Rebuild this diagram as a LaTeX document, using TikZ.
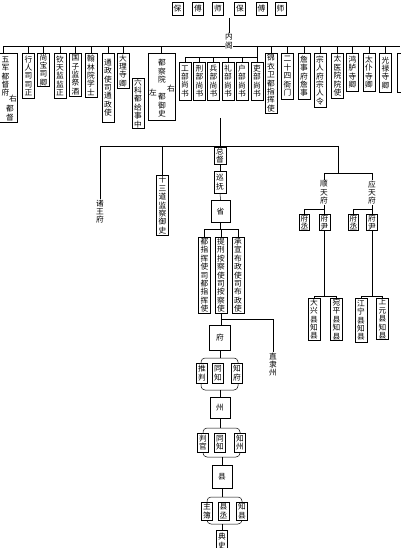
\documentclass[tikz,border=0pt]{standalone}
\usepackage{fontspec}
\newfontfamily\cjk{Noto Sans CJK SC}
\begin{document}
\begin{tikzpicture}[x=1pt,y=-1pt,line width=0.5pt,
  bx/.style={draw,fill=white,inner sep=0.3pt,anchor=north,minimum width=12pt,minimum height=#1,font=\cjk\fontsize{7.7}{8.4}\selectfont,align=center},
  ebox/.style={draw,fill=white,inner sep=0pt,anchor=north},
  lbl/.style={inner sep=0.3pt,font=\cjk\fontsize{7.7}{8.4}\selectfont,align=center}]
\useasboundingbox (0,0) rectangle (400,548);
% top row
\node[bx=13,minimum width=11pt] (t1) at (177.5,2) {保};
\node[bx=13,minimum width=11pt] (t2) at (198,2) {傅};
\node[bx=13,minimum width=11pt] (t3) at (218,2) {师};
\node[bx=13,minimum width=11pt] (t4) at (240,2) {保};
\node[bx=13,minimum width=11pt] (t5) at (261.5,2) {傅};
\node[bx=13,minimum width=11pt] (t6) at (280.5,2) {师};
\coordinate (topend) at (229,18);
\coordinate (mL) at (3,46);
\coordinate (mR) at (400,46);
\draw (mL) -- (mR);
\node[lbl,fill=white] (neige) at (229,41) {内\\阁};
\draw (topend) -- (neige.north);
% left group
\node[ebox,minimum width=28pt,minimum height=69pt] (wj) at (3,53) {};
\draw (wj.north) -- (wj.north |- mL);
\node[lbl,anchor=north] (wj1) at (5.5,56) {五\\军\\都\\督\\府};
\node[lbl] (wj2) at (13,99) {右};
\node[lbl,anchor=north] (wj3) at (10,105) {都\\督};
\node[bx=45] (xr) at (28.5,53) {行\\人\\司\\司\\正};
\node[bx=32] (sb) at (43.5,53) {尚\\宝\\司\\卿};
\node[bx=45] (qt) at (60,53) {钦\\天\\监\\监\\正};
\node[bx=43] (gz) at (75.5,53) {国\\子\\监\\祭\\酒};
\node[bx=44] (hl) at (91,53) {翰\\林\\院\\学\\士};
\node[bx=69] (tz) at (108,53) {通\\政\\使\\司\\通\\政\\使};
\node[bx=35] (dl) at (123,53) {大\\理\\寺\\卿};
\foreach \n in {xr,sb,qt,gz,hl,tz,dl} \draw (\n.north) -- (\n.north |- mL);
\node[bx=50] (lk) at (138,78) {六\\科\\都\\给\\事\\中};
\node[ebox,minimum width=27pt,minimum height=67pt] (dcy) at (161.5,53) {};
\draw (dcy.north) -- (dcy.north |- mL);
\node[lbl,anchor=north] (dcy1) at (162,59) {都\\察\\院};
\node[lbl] (dcy2) at (153,92) {左};
\node[lbl] (dcy3) at (171,89) {右};
\node[lbl,anchor=north] (dcy4) at (162,93) {都\\御\\史};
% six ministries
\coordinate (lbL) at (185,57);
\coordinate (lbR) at (257,57);
\draw (mL -| lbR) -- (lbR) -- (lbL);
\node[bx=38] (gb) at (185,62) {工\\部\\尚\\书};
\node[bx=38] (xb) at (199.5,62) {刑\\部\\尚\\书};
\node[bx=38] (bb) at (213.5,62) {兵\\部\\尚\\书};
\node[bx=38] (lib) at (228,62) {礼\\部\\尚\\书};
\node[bx=38] (hb) at (242,62) {户\\部\\尚\\书};
\node[bx=38] (lb) at (257,62) {吏\\部\\尚\\书};
\foreach \n in {gb,xb,bb,lib,hb,lb} \draw (\n.north) -- (\n.north |- lbL);
% right group
\node[bx=60] (rb1) at (271,53) {锦\\衣\\卫\\都\\指\\挥\\使};
\node[bx=46] (rb2) at (287.5,53) {二\\十\\四\\衙\\门};
\node[bx=46] (rb3) at (304,53) {詹\\事\\府\\詹\\事};
\node[bx=54] (rb4) at (320,53) {宗\\人\\府\\宗\\人\\令};
\node[bx=45] (rb5) at (337.5,53) {太\\医\\院\\院\\使};
\node[bx=38] (rb6) at (352.5,53) {鸿\\胪\\寺\\卿};
\node[bx=38] (rb7) at (369,53) {太\\仆\\寺\\卿};
\node[bx=39] (rb8) at (385.5,53) {光\\禄\\寺\\卿};
\node[bx=39] (rb9) at (403,53) {};
\foreach \n in {rb1,rb2,rb3,rb4,rb5,rb6,rb7,rb8,rb9} \draw (\n.north) -- (\n.north |- mL);
% middle horizontal
\coordinate (trunkTop) at (220,118);
\coordinate (hL) at (100,146);
\coordinate (hR) at (338,146);
\draw (hL) -- (hR);
\node[bx=17] (zd) at (220,147) {总\\督};
\draw (trunkTop) -- (zd.north);
\node[lbl,anchor=north] (zw) at (100,199) {诸\\王\\府};
\draw (hL) -- (zw.north);
\node[bx=60] (ssd) at (162.5,175) {十\\三\\道\\监\\察\\御\\史};
\draw (ssd.north) -- (ssd.north |- hL);
\node[bx=22] (xf) at (220,171) {巡\\抚};
\draw (zd.south) -- (xf.north);
\node[bx=22,minimum width=19pt] (sheng) at (220.5,200) {省};
\draw (xf.south) -- (sheng.north);
\coordinate (b1) at (220.5,229);
\node[bx=76] (dzh) at (204.5,237) {都\\指\\挥\\使\\司\\都\\指\\挥\\使};
\node[bx=76] (tx) at (221,237) {提\\刑\\按\\察\\使\\司\\按\\察\\使};
\node[bx=76] (cx) at (238,237) {承\\宣\\布\\政\\使\\司\\布\\政\\使};
\draw (sheng.south) -- (b1);
\draw (dzh.north |- b1) -- (cx.north |- b1);
\foreach \n in {dzh,tx,cx} \draw (\n.north) -- (\n.north |- b1);
% fu
\node[bx=25,minimum width=21pt] (fu) at (220,325) {府};
\draw (tx.south) -- (tx.south |- fu.north);
\coordinate (zl) at (273,319);
\node[lbl,anchor=north] (zlz) at (273,352) {直\\隶\\州};
\draw (tx.south |- zl) -- (zl) -- (zlz.north);
\coordinate (f2a) at (201,358);
\coordinate (f2b) at (238,390);
\draw[rounded corners=4pt] (f2a) rectangle (f2b);
\draw (fu.south) -- (fu.south |- f2a);
\node[bx=20,minimum width=11pt] (tp) at (202,363) {推\\判};
\node[bx=20,minimum width=11pt] (ft) at (218,363) {同\\知};
\node[bx=20,minimum width=11pt] (zf) at (237,363) {知\\府};
% zhou
\node[bx=21,minimum width=20pt] (zhou) at (220,397) {州};
\draw (zhou.north |- f2b) -- (zhou.north);
\coordinate (f3a) at (203,428);
\coordinate (f3b) at (240,457);
\draw[rounded corners=4pt] (f3a) rectangle (f3b);
\draw (zhou.south) -- (zhou.south |- f3a);
\node[bx=19,minimum width=11pt] (pg) at (203,433) {判\\官};
\node[bx=19,minimum width=11pt] (zt) at (220,433) {同\\知};
\node[bx=19,minimum width=11pt] (zz) at (240,433) {知\\州};
% xian
\node[bx=23,minimum width=20pt] (xian) at (222,465) {县};
\draw (xian.north |- f3b) -- (xian.north);
\coordinate (f4a) at (207,497);
\coordinate (f4b) at (242,524);
\draw[rounded corners=4pt] (f4a) rectangle (f4b);
\draw (xian.south) -- (xian.south |- f4a);
\node[bx=18,minimum width=11pt] (zb) at (207,502) {主\\簿};
\node[bx=18,minimum width=11pt] (xc) at (223.5,502) {县\\丞};
\node[bx=18,minimum width=11pt] (zx) at (242,502) {知\\县};
\node[bx=22,minimum width=11pt] (ds) at (222,530) {典\\史};
\draw (ds.north |- f4b) -- (ds.north);
% shuntian / yingtian
\coordinate (rc) at (338,173);
\coordinate (stc) at (324,173);
\coordinate (ytc) at (372,173);
\draw (hR) -- (rc);
\draw (stc) -- (ytc);
\node[lbl,anchor=north] (st) at (324,180) {顺\\天\\府};
\node[lbl,anchor=north] (yt) at (372,180) {应\\天\\府};
\draw (stc) -- (st.north);
\draw (ytc) -- (yt.north);
\coordinate (sbk) at (324.5,209);
\coordinate (ybk) at (372,209);
\node[bx=16,minimum width=10pt] (sfc) at (304.5,214) {府\\丞};
\node[bx=16,minimum width=11pt] (sfy) at (324.5,214) {府\\尹};
\node[bx=16,minimum width=10pt] (yfc) at (353.5,214) {府\\丞};
\node[bx=16,minimum width=11pt] (yfy) at (372,214) {府\\尹};
\draw (st.south) -- (st.south |- sbk);
\draw (yt.south) -- (yt.south |- ybk);
\draw (sfc.north |- sbk) -- (sfy.north |- sbk);
\draw (yfc.north |- ybk) -- (yfy.north |- ybk);
\foreach \n in {sfc,sfy} \draw (\n.north) -- (\n.north |- sbk);
\foreach \n in {yfc,yfy} \draw (\n.north) -- (\n.north |- ybk);
\coordinate (sk) at (324.5,296);
\coordinate (yk) at (372,296);
\node[bx=42] (dx) at (314,298) {大\\兴\\县\\知\\县};
\node[bx=42] (wp) at (336.5,298) {宛\\平\\县\\知\\县};
\node[bx=44] (jn) at (361,298) {江\\宁\\县\\知\\县};
\node[bx=40] (sy) at (382.5,298) {上\\元\\县\\知\\县};
\draw (sfy.south) -- (sk);
\draw (yfy.south) -- (yk);
\draw (dx.north |- sk) -- (wp.north |- sk);
\draw (jn.north |- yk) -- (sy.north |- yk);
\foreach \n in {dx,wp} \draw (\n.north) -- (\n.north |- sk);
\foreach \n in {jn,sy} \draw (\n.north) -- (\n.north |- yk);
\end{tikzpicture}
\end{document}
